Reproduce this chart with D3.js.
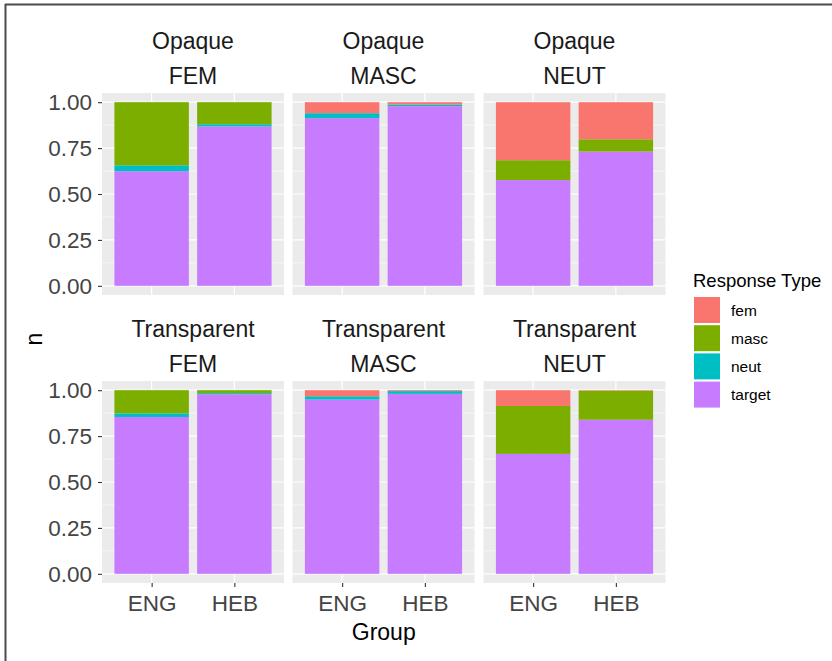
<!DOCTYPE html>
<html>
<head>
<meta charset="utf-8">
<script src="https://cdn.jsdelivr.net/npm/d3@7"></script>
<style>
  html, body { margin: 0; padding: 0; background: #fff; }
  svg { display: block; font-family: "Liberation Sans", Arial, sans-serif; }
</style>
</head>
<body>
<svg id="chart" width="832" height="661"></svg>
<script>
// Facet rows / columns and x categories
const transparencies = ["Opaque", "Transparent"];
const genders = ["FEM", "MASC", "NEUT"];
const groups = ["ENG", "HEB"];
const responseTypes = ["fem", "masc", "neut", "target"];
const yTicks = [0, 0.25, 0.5, 0.75, 1.0];

// Proportions per panel, in order: Opaque FEM ENG, Opaque FEM HEB, Opaque MASC ENG, ...
const femValues    = [0.000, 0.000, 0.060, 0.013, 0.316, 0.202, 0.000, 0.000, 0.033, 0.005, 0.086, 0.003];
const mascValues   = [0.344, 0.120, 0.000, 0.000, 0.108, 0.067, 0.126, 0.016, 0.000, 0.000, 0.261, 0.158];
const neutValues   = [0.032, 0.012, 0.027, 0.009, 0.000, 0.000, 0.020, 0.006, 0.018, 0.015, 0.000, 0.000];
const targetValues = [0.624, 0.868, 0.913, 0.978, 0.576, 0.731, 0.854, 0.978, 0.949, 0.980, 0.653, 0.839];

const colors = { fem: "#F8766D", masc: "#7CAE00", neut: "#00BFC4", target: "#C77CFF" };

// Build long rows
const rows = [];
let k = 0;
transparencies.forEach(t => genders.forEach(g => groups.forEach(grp => {
  rows.push({ transparency: t, gender: g, group: grp,
    fem: femValues[k], masc: mascValues[k], neut: neutValues[k], target: targetValues[k] });
  k++;
})));

const svg = d3.select("#chart");

// Outer frame (top and left edges)
svg.append("line").attr("x1", 5).attr("x2", 832).attr("y1", 4.5).attr("y2", 4.5)
  .attr("stroke", "#4a4a4a").attr("stroke-width", 2);
svg.append("line").attr("x1", 5.5).attr("x2", 5.5).attr("y1", 4).attr("y2", 661)
  .attr("stroke", "#4a4a4a").attr("stroke-width", 2);

const panelLefts = [102, 292.5, 483.5];
const panelWidth = 182;
const panelTops = [93, 381];
const panelHeight = 202;

// stack order bottom -> top: target, neut, masc, fem
const stack = d3.stack().keys(["target", "neut", "masc", "fem"]);

transparencies.forEach((t, ri) => {
  genders.forEach((g, ci) => {
    const x0 = panelLefts[ci], y0 = panelTops[ri];
    const panel = svg.append("g").attr("transform", `translate(${x0},${y0})`);

    const x = d3.scalePoint().domain(groups).range([0, panelWidth]).padding(0.6);
    const step = x.step();
    const barW = step * 0.9;
    const y = d3.scaleLinear().domain([-0.05, 1.05]).range([panelHeight, 0]);

    // background
    panel.append("rect").attr("width", panelWidth).attr("height", panelHeight).attr("fill", "#EBEBEB");

    // minor grid
    const minor = [0.125, 0.375, 0.625, 0.875];
    panel.selectAll(".minor").data(minor).join("line")
      .attr("x1", 0).attr("x2", panelWidth)
      .attr("y1", d => y(d)).attr("y2", d => y(d))
      .attr("stroke", "#fff").attr("stroke-width", 0.6);
    // major grid
    panel.selectAll(".majorY").data(yTicks).join("line")
      .attr("x1", 0).attr("x2", panelWidth)
      .attr("y1", d => y(d)).attr("y2", d => y(d))
      .attr("stroke", "#fff").attr("stroke-width", 1.2);
    panel.selectAll(".majorX").data(groups).join("line")
      .attr("x1", d => x(d)).attr("x2", d => x(d))
      .attr("y1", 0).attr("y2", panelHeight)
      .attr("stroke", "#fff").attr("stroke-width", 1.2);

    // stacked bars
    const data = rows.filter(r => r.transparency === t && r.gender === g);
    const series = stack(data);
    series.forEach(s => {
      panel.append("g").selectAll("rect").data(s).join("rect")
        .attr("x", d => x(d.data.group) - barW / 2)
        .attr("width", barW)
        .attr("y", d => y(d[1]))
        .attr("height", d => Math.max(0, y(d[0]) - y(d[1])))
        .attr("fill", colors[s.key]);
    });

    // strip labels
    svg.append("text").attr("x", x0 + panelWidth / 2).attr("y", y0 - 52)
      .attr("text-anchor", "middle").attr("dominant-baseline", "central")
      .attr("font-size", 23).attr("fill", "#1a1a1a").text(t);
    svg.append("text").attr("x", x0 + panelWidth / 2).attr("y", y0 - 17)
      .attr("text-anchor", "middle").attr("dominant-baseline", "central")
      .attr("font-size", 23).attr("fill", "#1a1a1a").text(g);

    // y axis on first column
    if (ci === 0) {
      const ya = panel.append("g").call(d3.axisLeft(y).tickValues(yTicks)
        .tickFormat(d3.format(".2f")).tickSize(4).tickPadding(6));
      ya.select(".domain").remove();
      ya.selectAll(".tick line").attr("stroke", "#333").attr("stroke-width", 1.1);
      ya.selectAll(".tick text").attr("font-size", 22.5).attr("fill", "#444")
        .attr("font-family", "Liberation Sans, Arial, sans-serif");
    }
    // x axis on bottom row
    if (ri === 1) {
      const xa = panel.append("g").attr("transform", `translate(0,${panelHeight})`)
        .call(d3.axisBottom(x).tickSize(4).tickPadding(8));
      xa.select(".domain").remove();
      xa.selectAll(".tick line").attr("stroke", "#333").attr("stroke-width", 1.1);
      xa.selectAll(".tick text").attr("font-size", 22.5).attr("fill", "#444")
        .attr("font-family", "Liberation Sans, Arial, sans-serif");
    }
  });
});

// axis titles
svg.append("text").attr("x", (panelLefts[0] + panelLefts[2] + panelWidth) / 2).attr("y", 632)
  .attr("text-anchor", "middle").attr("dominant-baseline", "central")
  .attr("font-size", 23).attr("fill", "#000").text("Group");
svg.append("text").attr("transform", "translate(34,339) rotate(-90)")
  .attr("text-anchor", "middle").attr("dominant-baseline", "central")
  .attr("font-size", 23).attr("fill", "#000").text("n");

// legend
const legend = svg.append("g").attr("transform", "translate(694,0)");
legend.append("text").attr("x", -1).attr("y", 280).attr("dominant-baseline", "central")
  .attr("font-size", 18.5).attr("fill", "#000").text("Response Type");
responseTypes.forEach((rt, i) => {
  const yy = 297 + i * 28.2;
  legend.append("rect").attr("x", 0).attr("y", yy).attr("width", 26).attr("height", 26)
    .attr("fill", colors[rt]);
  legend.append("text").attr("x", 37).attr("y", yy + 13).attr("dominant-baseline", "central")
    .attr("font-size", 15.5).attr("fill", "#000").text(rt);
});
</script>
</body>
</html>
